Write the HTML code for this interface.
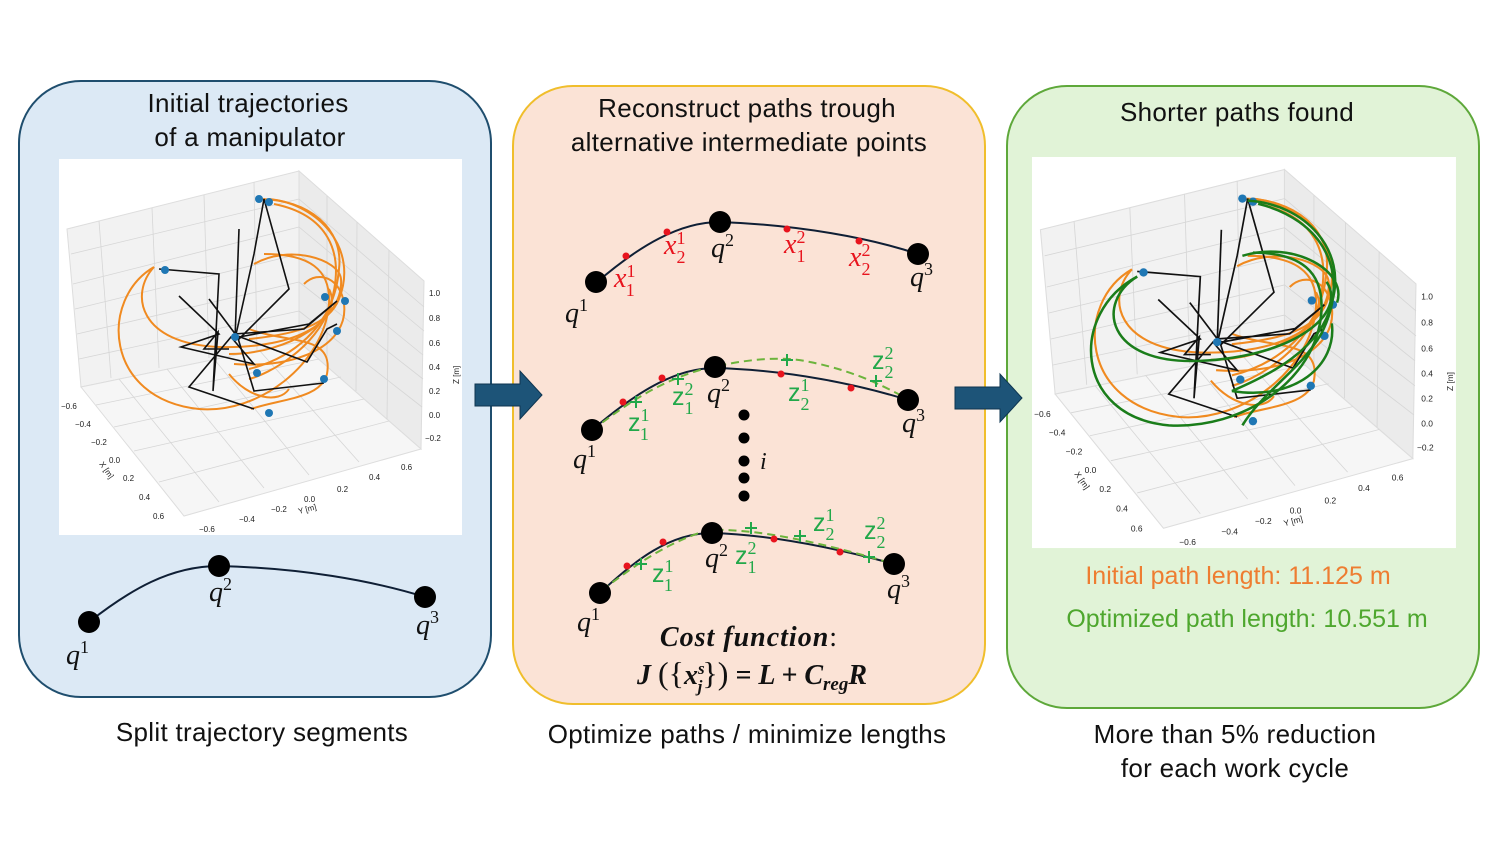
<!DOCTYPE html>
<html><head><meta charset="utf-8"><style>
html,body{margin:0;padding:0;background:#fff;}
svg{display:block;}
text{font-family:"Liberation Sans",sans-serif;}
.t{font-size:26px;fill:#111;text-anchor:middle;letter-spacing:0.3px;}
.m{font-family:"Liberation Serif",serif;font-style:italic;font-size:28px;fill:#111;}
.s{font-family:"Liberation Serif",serif;font-style:normal;font-size:18px;}
.r{fill:#e8141e;} .g{fill:#22a84a;font-family:"Liberation Sans",sans-serif;font-style:normal;font-size:25px;}
.tk{font-size:8px;fill:#222;}
</style></head><body>
<svg width="1507" height="845" viewBox="0 0 1507 845" xmlns="http://www.w3.org/2000/svg">
<defs>
<g id="plot">
 <rect x="0" y="0" width="403" height="376" fill="#fff"/>
 <polygon points="8,70 240,12 240,183 22,228" fill="#f2f2f2" stroke="#ddd"/>
 <polygon points="240,12 365,122 362,290 240,183" fill="#ebebeb" stroke="#ddd"/>
 <polygon points="22,228 240,183 362,290 125,357" fill="#f6f6f6" stroke="#ddd"/>
 <g stroke="#d6d6d6" stroke-width="0.8" fill="none">
  <line x1="40" y1="62" x2="52" y2="219"/><line x1="93" y1="49" x2="100" y2="209"/><line x1="145" y1="36" x2="150" y2="199"/><line x1="195" y1="23" x2="198" y2="191"/>
  <line x1="12" y1="95" x2="240" y2="40"/><line x1="14" y1="125" x2="240" y2="68"/><line x1="16" y1="150" x2="240" y2="95"/><line x1="18" y1="175" x2="240" y2="123"/><line x1="20" y1="200" x2="240" y2="152"/>
  <line x1="268" y1="37" x2="268" y2="206"/><line x1="298" y1="63" x2="297" y2="232"/><line x1="330" y1="91" x2="328" y2="260"/>
  <line x1="240" y1="40" x2="365" y2="148"/><line x1="240" y1="68" x2="365" y2="172"/><line x1="240" y1="95" x2="364" y2="196"/><line x1="240" y1="123" x2="364" y2="220"/><line x1="240" y1="152" x2="363" y2="248"/>
  <line x1="37" y1="246" x2="260" y2="200"/><line x1="55" y1="268" x2="282" y2="218"/><line x1="75" y1="292" x2="305" y2="240"/><line x1="100" y1="323" x2="330" y2="262"/>
  <line x1="60" y1="220" x2="160" y2="343"/><line x1="108" y1="210" x2="205" y2="329"/><line x1="155" y1="200" x2="250" y2="316"/><line x1="200" y1="191" x2="300" y2="303"/>
 </g>
 <g stroke="#f08a20" stroke-width="2" fill="none">
  <path d="M95,108 C40,140 45,240 140,250 C200,255 265,205 270,145 C272,110 250,95 205,95"/>
  <path d="M95,108 C70,135 80,185 160,188 C240,190 285,160 270,130"/>
  <path d="M195,105 C230,85 280,100 282,120 C285,160 230,195 170,195"/>
  <path d="M175,205 C240,210 290,185 285,145 C282,120 260,110 245,125"/>
  <path d="M200,40 C250,40 285,70 280,110 C275,170 230,200 190,210"/>
  <path d="M215,45 C265,55 290,90 270,150 C255,190 210,215 190,220"/>
  <path d="M190,170 C230,185 275,175 268,215 C262,240 220,240 192,250"/>
  <path d="M210,40 C260,45 300,90 280,140 C270,165 240,175 190,180"/>
  <path d="M170,215 C190,240 220,245 230,230"/>
 </g>
 <g stroke="#111" stroke-width="1.6" fill="none">
  <polyline points="100,110 160,115 154,232 159,173 145,190 170,190"/>
  <polyline points="176,180 195,95 205,40 230,130 180,180 150,140"/>
  <polyline points="175,175 245,170 278,142 250,165 180,178"/>
  <polyline points="120,137 160,175 122,188 195,205 172,178 130,228 195,250"/>
  <polyline points="176,176 248,203 268,170 278,165"/>
  <polyline points="178,176 195,232 265,224"/>
  <polyline points="176,180 180,70"/>
 </g>
 <g fill="#1f77b4">
  <circle cx="106" cy="111" r="4"/><circle cx="200" cy="40" r="4"/><circle cx="210" cy="43" r="4"/><circle cx="266" cy="138" r="4"/><circle cx="286" cy="142" r="4"/><circle cx="278" cy="172" r="4"/><circle cx="198" cy="214" r="4"/><circle cx="265" cy="220" r="4"/><circle cx="210" cy="254" r="4"/><circle cx="176" cy="178" r="4"/>
 </g>
 <g class="tk">
  <text x="2" y="250">−0.6</text><text x="16" y="268">−0.4</text><text x="32" y="286">−0.2</text><text x="50" y="304">0.0</text><text x="64" y="322">0.2</text><text x="80" y="341">0.4</text><text x="94" y="360">0.6</text>
  <text x="140" y="373">−0.6</text><text x="180" y="363">−0.4</text><text x="212" y="353">−0.2</text><text x="245" y="343">0.0</text><text x="278" y="333">0.2</text><text x="310" y="321">0.4</text><text x="342" y="311">0.6</text>
  <text x="370" y="137">1.0</text><text x="370" y="162">0.8</text><text x="370" y="187">0.6</text><text x="370" y="211">0.4</text><text x="370" y="235">0.2</text><text x="370" y="259">0.0</text><text x="366" y="282">−0.2</text>
  <text x="40" y="305" transform="rotate(55 40 305)">X [m]</text>
  <text x="240" y="355" transform="rotate(-15 240 355)">Y [m]</text>
  <text x="400" y="225" transform="rotate(-90 400 225)">Z [m]</text>
 </g>
</g>
</defs>

<!-- Left panel -->
<rect x="19" y="81" width="472" height="616" rx="62" fill="#dce9f5" stroke="#1f4e6e" stroke-width="2"/>
<text class="t" x="248" y="112">Initial trajectories</text>
<text class="t" x="250" y="146">of a manipulator</text>
<use href="#plot" transform="translate(59,159)"/>
<path d="M89,622 C130,590 170,566 219,566 C300,568 370,580 425,597" stroke="#0f1f35" stroke-width="2" fill="none"/>
<circle cx="89" cy="622" r="11"/><circle cx="219" cy="566" r="11"/><circle cx="425" cy="597" r="11"/>
<text class="m" x="66" y="664">q<tspan class="s" dy="-11">1</tspan></text>
<text class="m" x="209" y="601">q<tspan class="s" dy="-11">2</tspan></text>
<text class="m" x="416" y="634">q<tspan class="s" dy="-11">3</tspan></text>
<text class="t" x="262" y="741">Split trajectory segments</text>

<!-- Middle panel -->
<rect x="513" y="86" width="472" height="618" rx="60" fill="#fbe3d6" stroke="#f0be2c" stroke-width="2"/>
<text class="t" x="747" y="117">Reconstruct paths trough</text>
<text class="t" x="749" y="151">alternative intermediate points</text>
<path d="M596,283 C640,245 680,222 720,222 C800,225 870,238 918,254" stroke="#0f1f35" stroke-width="2" fill="none"/>
<circle cx="596" cy="282" r="11"/><circle cx="720" cy="222" r="11"/><circle cx="918" cy="254" r="11"/>
<g fill="#e8141e"><circle cx="626" cy="256" r="3.5"/><circle cx="667" cy="232" r="3.5"/><circle cx="787" cy="229" r="3.5"/><circle cx="859" cy="241" r="3.5"/></g>
<text class="m r" x="614" y="287">x<tspan class="s" dy="-10">1</tspan><tspan class="s" dx="-9" dy="19">1</tspan></text>
<text class="m r" x="664" y="254">x<tspan class="s" dy="-10">1</tspan><tspan class="s" dx="-9" dy="19">2</tspan></text>
<text class="m r" x="784" y="253">x<tspan class="s" dy="-10">2</tspan><tspan class="s" dx="-9" dy="19">1</tspan></text>
<text class="m r" x="849" y="266">x<tspan class="s" dy="-10">2</tspan><tspan class="s" dx="-9" dy="19">2</tspan></text>
<text class="m" x="565" y="322">q<tspan class="s" dy="-11">1</tspan></text>
<text class="m" x="711" y="257">q<tspan class="s" dy="-11">2</tspan></text>
<text class="m" x="910" y="286">q<tspan class="s" dy="-11">3</tspan></text>
<path d="M592,430 C635,393 675,368 715,368 C790,370 860,385 908,400" stroke="#0f1f35" stroke-width="2" fill="none"/>
<path d="M592,430 C620,410 650,385 700,370 C740,360 780,355 810,362 C860,372 890,390 910,400" stroke="#6cb43c" stroke-width="2" stroke-dasharray="8,5" fill="none"/>
<circle cx="592" cy="430" r="11"/><circle cx="715" cy="367" r="11"/><circle cx="908" cy="400" r="11"/>
<g fill="#e8141e"><circle cx="623" cy="402" r="3.5"/><circle cx="662" cy="378" r="3.5"/><circle cx="781" cy="374" r="3.5"/><circle cx="851" cy="388" r="3.5"/></g>
<g stroke="#22a84a" stroke-width="2"><path d="M636,396v12M630,402h12M678,373v12M672,379h12M787,354v12M781,360h12M876,375v12M870,381h12"/></g>
<text class="m g" x="628" y="431">z<tspan class="s" dy="-10">1</tspan><tspan class="s" dx="-9" dy="19">1</tspan></text>
<text class="m g" x="672" y="405">z<tspan class="s" dy="-10">2</tspan><tspan class="s" dx="-9" dy="19">1</tspan></text>
<text class="m g" x="788" y="401">z<tspan class="s" dy="-10">1</tspan><tspan class="s" dx="-9" dy="19">2</tspan></text>
<text class="m g" x="872" y="369">z<tspan class="s" dy="-10">2</tspan><tspan class="s" dx="-9" dy="19">2</tspan></text>
<text class="m" x="573" y="468">q<tspan class="s" dy="-11">1</tspan></text>
<text class="m" x="707" y="402">q<tspan class="s" dy="-11">2</tspan></text>
<text class="m" x="902" y="432">q<tspan class="s" dy="-11">3</tspan></text>
<g fill="#000"><circle cx="744" cy="415" r="5.5"/><circle cx="744" cy="438" r="5.5"/><circle cx="744" cy="461" r="5.5"/><circle cx="744" cy="478" r="5.5"/><circle cx="744" cy="496" r="5.5"/></g>
<text class="m" x="760" y="469" style="font-size:24px">i</text>
<path d="M600,593 C635,560 670,533 712,533 C780,535 850,552 894,564" stroke="#0f1f35" stroke-width="2" fill="none"/>
<path d="M602,590 C630,570 660,545 708,530 C760,528 830,545 894,564" stroke="#6cb43c" stroke-width="2" stroke-dasharray="8,5" fill="none"/>
<circle cx="600" cy="593" r="11"/><circle cx="712" cy="533" r="11"/><circle cx="894" cy="564" r="11"/>
<g fill="#e8141e"><circle cx="627" cy="566" r="3.5"/><circle cx="663" cy="542" r="3.5"/><circle cx="774" cy="539" r="3.5"/><circle cx="840" cy="552" r="3.5"/></g>
<g stroke="#22a84a" stroke-width="2"><path d="M641,558v12M635,564h12M751,522v12M745,528h12M800,530v12M794,536h12M869,551v12M863,557h12"/></g>
<text class="m g" x="652" y="582">z<tspan class="s" dy="-10">1</tspan><tspan class="s" dx="-9" dy="19">1</tspan></text>
<text class="m g" x="735" y="564">z<tspan class="s" dy="-10">2</tspan><tspan class="s" dx="-9" dy="19">1</tspan></text>
<text class="m g" x="813" y="531">z<tspan class="s" dy="-10">1</tspan><tspan class="s" dx="-9" dy="19">2</tspan></text>
<text class="m g" x="864" y="539">z<tspan class="s" dy="-10">2</tspan><tspan class="s" dx="-9" dy="19">2</tspan></text>
<text class="m" x="577" y="631">q<tspan class="s" dy="-11">1</tspan></text>
<text class="m" x="705" y="567">q<tspan class="s" dy="-11">2</tspan></text>
<text class="m" x="887" y="598">q<tspan class="s" dy="-11">3</tspan></text>
<text x="749" y="646" text-anchor="middle" style="font-family:'Liberation Serif',serif;font-weight:bold;font-style:italic;font-size:28px;fill:#111;letter-spacing:1px">Cost function<tspan style="font-style:normal;font-weight:normal">:</tspan></text>
<text x="752" y="684" text-anchor="middle" style="font-family:'Liberation Serif',serif;font-weight:bold;font-style:italic;font-size:28px;fill:#111">J <tspan style="font-style:normal;font-weight:normal;font-size:32px">({</tspan>x<tspan style="font-size:17px" dy="-10">s</tspan><tspan style="font-size:17px" dx="-7" dy="18">j</tspan><tspan dy="-8" style="font-style:normal;font-weight:normal;font-size:32px">})</tspan>  = L + C<tspan style="font-size:19px" dy="6">reg</tspan><tspan dy="-6">R</tspan></text>
<text class="t" x="747" y="743">Optimize paths / minimize lengths</text>

<!-- Right panel -->
<rect x="1007" y="86" width="472" height="622" rx="60" fill="#e1f3d7" stroke="#5ea83a" stroke-width="2"/>
<text class="t" x="1237" y="121">Shorter paths found</text>
<g transform="translate(1032,157) scale(1.052,1.04)">
 <use href="#plot"/>
 <g stroke="#1a7d1a" stroke-width="2.4" fill="none">
  <path d="M100,115 C35,150 40,250 130,258 C200,262 270,215 275,150 C278,110 255,92 210,92"/>
  <path d="M100,115 C60,140 70,200 160,196 C250,192 300,150 280,120"/>
  <path d="M205,42 C260,45 300,90 285,140 C275,185 225,210 190,225"/>
  <path d="M215,45 C275,60 305,110 275,170 C255,205 220,225 200,258"/>
  <path d="M190,225 C250,235 290,200 285,160"/>
  <path d="M200,95 C250,80 300,110 290,140"/>
 </g>
</g>
<text x="1238" y="584" text-anchor="middle" style="font-size:25px;fill:#ee7d31">Initial path length: 11.125 m</text>
<text x="1247" y="627" text-anchor="middle" style="font-size:25px;fill:#4ea72e">Optimized path length: 10.551 m</text>
<text class="t" x="1235" y="743">More than 5% reduction</text>
<text class="t" x="1235" y="777">for each work cycle</text>

<!-- Arrows on top -->
<polygon points="475,384 520,384 520,371 542,395 520,419 520,406 475,406" fill="#1d5478" stroke="#0e3550" stroke-width="1"/>
<polygon points="955,387 1000,387 1000,374 1022,398 1000,422 1000,409 955,409" fill="#1d5478" stroke="#0e3550" stroke-width="1"/>
</svg>
</body></html>
